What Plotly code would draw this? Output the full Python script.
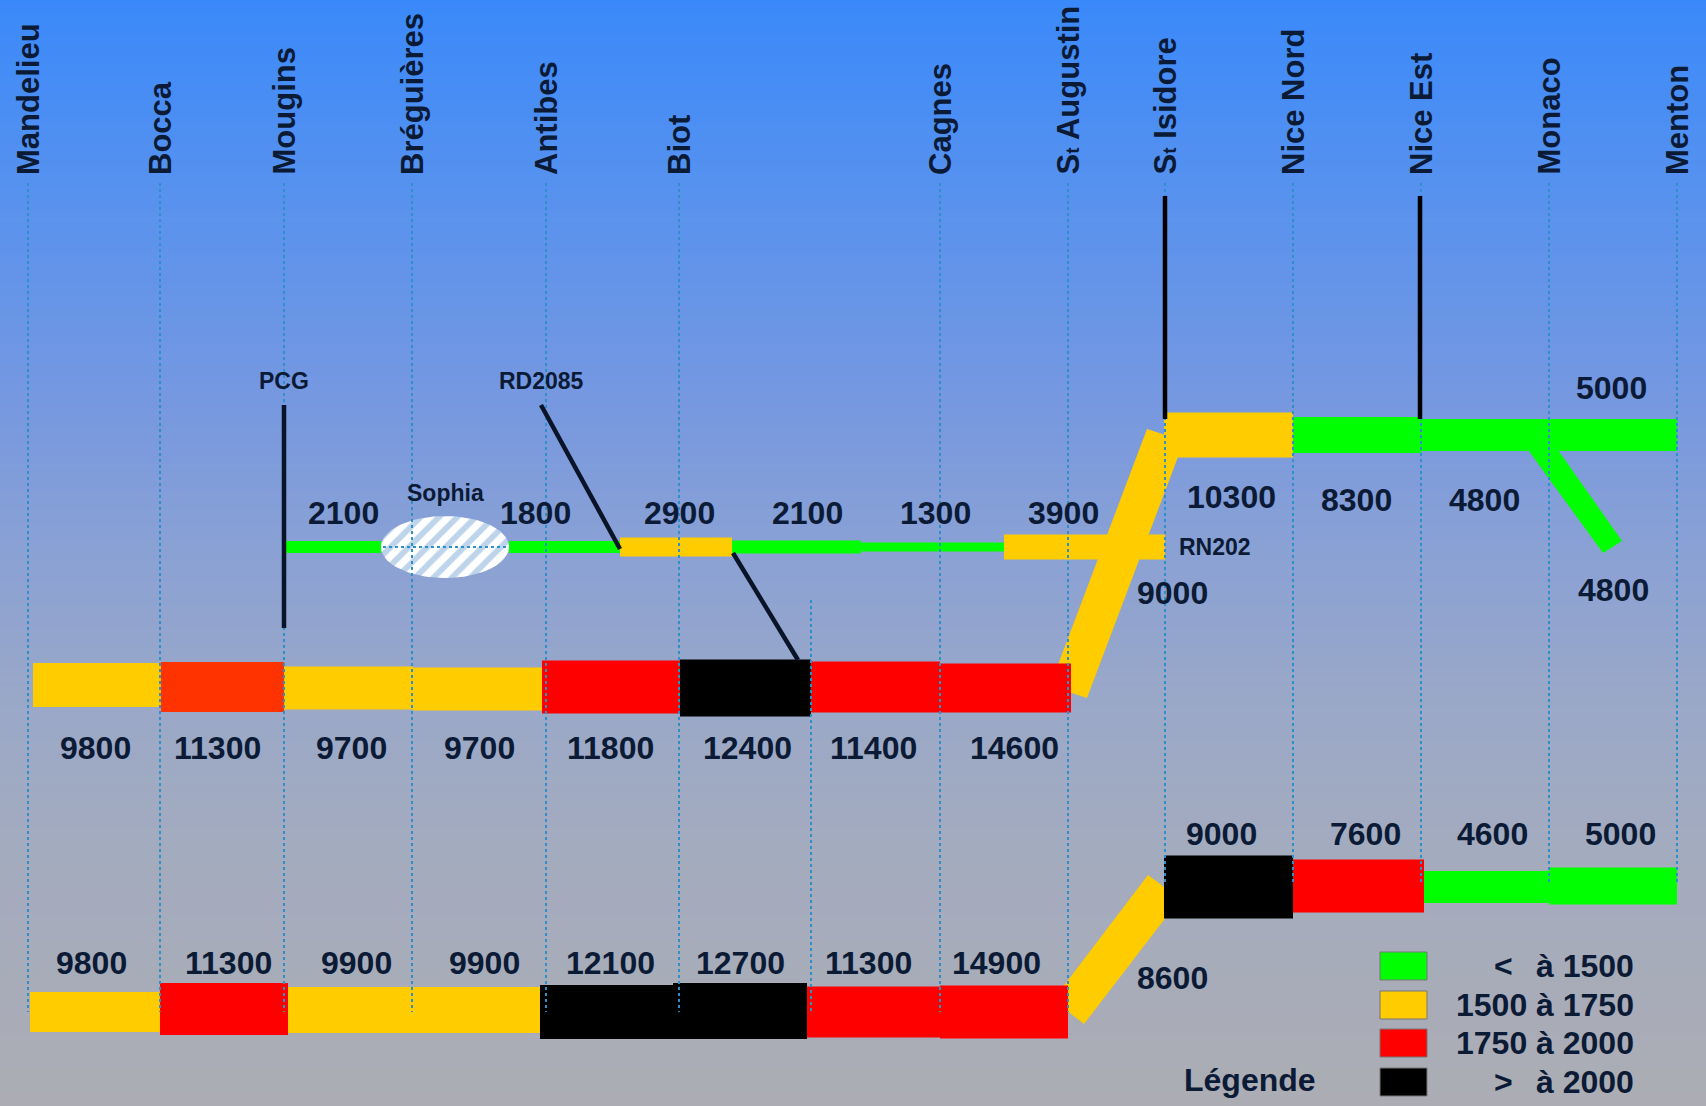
import numpy as np
import plotly.graph_objects as go

W, H = 1706, 1106

# ---------------- data ----------------
stations = ["Mandelieu", "Bocca", "Mougins", "Bréguières", "Antibes", "Biot", "",
            "Cagnes", "S<span style='font-size:19px'>t</span> Augustin",
            "S<span style='font-size:19px'>t</span> Isidore",
            "Nice Nord", "Nice Est", "Monaco", "Menton"]

# secondary route (PCG / Sophia / RD2085 / RN202)
rd_values = [2100, 1800, 2900, 2100, 1300, 3900]
rd_levels = [0, 0, 1, 0, 0, 1]

# A8 middle row (Mandelieu -> St Augustin)
mid_values = [9800, 11300, 9700, 9700, 11800, 12400, 11400, 14600]
mid_levels = [1, 2, 1, 1, 2, 3, 2, 2]

# A8 lower row (Mandelieu -> St Augustin)
low_values = [9800, 11300, 9900, 9900, 12100, 12700, 11300, 14900]
low_levels = [1, 2, 1, 1, 3, 3, 2, 2]

# east part, upper row (St Isidore -> Menton)
eup_values = [10300, 8300, 4800, 5000]
eup_levels = [1, 0, 0, 0]

# east part, lower row (St Isidore -> Menton)
elow_values = [9000, 7600, 4600, 5000]
elow_levels = [3, 2, 0, 0]

# St Augustin -> St Isidore links (upper, lower) and Monaco branch
link_values = [9000, 8600]
link_levels = [1, 1]
branch_value = 4800
branch_level = 0

side_labels = ["PCG", "RD2085", "Sophia", "RN202"]
legend_sym = ["<", "", "", ">"]
legend_txt = ["à 1500", "1500 à 1750", "1750 à 2000", "à 2000"]
legend_title = "Légende"

# ---------------- styles / geometry ----------------
LEVEL_COL = ["#00FF00", "#FFCC00", "#FF0000", "#000000"]
MID_COLOR_OVERRIDE = {1: "#FF3300"}
TXT = "#0B1A35"
DOT = "#2E8FC9"
FONT = "Liberation Sans, Arial, sans-serif"

STATION_X = [28, 160, 284, 412, 546, 679, 811, 940, 1068, 1165, 1293, 1421, 1549, 1677]

RD_SEG = [(284, 381), (509, 620), (620, 732), (732, 861), (861, 1004), (1004, 1165)]
RD_T = [12, 12, 19, 13, 9, 25]
RD_Y = 547
RD_LX = [343, 535, 679, 807, 935, 1063]
RD_LY = 513

MID_EDGES = [33, 161, 284, 413, 542, 680, 811, 940, 1071]
MID_Y = [685, 687, 688, 689, 687, 688, 687, 688]
MID_T = [44, 50, 43, 43, 53, 57, 51, 49]
MID_LX = [95, 217, 351, 479, 610, 747, 873, 1014]
MID_LY = 748

LOW_EDGES = [30, 160, 288, 414, 540, 673, 807, 940, 1068]
LOW_Y = [1012, 1009, 1010, 1010, 1012, 1011, 1012, 1012]
LOW_T = [40, 52, 46, 46, 54, 56, 51, 53]
LOW_LX = [91, 228, 356, 484, 610, 740, 868, 996]
LOW_LY = 963

EUP_EDGES = [1164, 1293, 1421, 1549, 1677]
EUP_Y = [435, 435, 435, 435]
EUP_T = [45, 36, 32, 32]
EUP_LXY = [(1231, 497), (1356, 500), (1484, 500), (1611, 388)]

ELOW_EDGES = [1164, 1293, 1424, 1549, 1677]
ELOW_Y = [887, 886, 887, 886]
ELOW_T = [63, 53, 32, 37]
ELOW_LX = [1221, 1365, 1492, 1620]
ELOW_LY = 834

LINK_POLY = [[(1147, 429), (1184, 441), (1087, 698), (1050, 686)],
             [(1148, 875), (1180, 899), (1084, 1024), (1053, 1000)]]
LINK_LXY = [(1172, 593), (1172, 978)]
BRANCH_POLY = [(1521, 440), (1551, 440), (1622, 541), (1603, 553)]
BRANCH_LXY = (1613, 590)

fig = go.Figure()

# background gradient
stops = [(0, (58, 137, 250)), (200, (88, 146, 238)), (400, (118, 152, 224)),
         (550, (138, 161, 212)), (700, (154, 168, 200)), (850, (163, 171, 190)),
         (1106, (172, 173, 180))]
cscale = [[s / H, "rgb(%d,%d,%d)" % c] for s, c in stops]
ys = np.linspace(0, H, 150)
fig.add_trace(go.Heatmap(x=[0, W], y=ys, z=[[v, v] for v in ys], colorscale=cscale,
                         zmin=0, zmax=H, zsmooth="best", showscale=False, hoverinfo="skip"))

shapes = []
annots = []


def rect(x0, x1, yc, t, color, line=None):
    shapes.append(dict(type="rect", xref="x", yref="y", x0=x0, x1=x1, y0=yc - t / 2, y1=yc + t / 2,
                       fillcolor=color, line=dict(width=0) if line is None else line, layer="above"))


def seg(x0, y0, x1, y1, color, width, dash=None):
    d = dict(type="line", xref="x", yref="y", x0=x0, y0=y0, x1=x1, y1=y1,
             line=dict(color=color, width=width), layer="above")
    if dash:
        d["line"]["dash"] = dash
    shapes.append(d)


def label(x, y, text, size=32, xanchor="center", angle=0, yanchor="middle"):
    annots.append(dict(x=x, y=y, xref="x", yref="y", text=text, showarrow=False,
                       xanchor=xanchor, yanchor=yanchor, textangle=angle,
                       font=dict(family=FONT, size=size, color=TXT, weight="bold")))


def poly(pts, color):
    xs = [p[0] for p in pts] + [pts[0][0]]
    yv = [p[1] for p in pts] + [pts[0][1]]
    fig.add_trace(go.Scatter(x=xs, y=yv, mode="lines", fill="toself", fillcolor=color,
                             line=dict(width=0, color=color), hoverinfo="skip", showlegend=False))


# diagonal links (under bars)
for i in range(2):
    poly(LINK_POLY[i], LEVEL_COL[link_levels[i]])
    label(LINK_LXY[i][0], LINK_LXY[i][1], str(link_values[i]))
poly(BRANCH_POLY, LEVEL_COL[branch_level])
label(BRANCH_LXY[0], BRANCH_LXY[1], str(branch_value))

# secondary route
for i, v in enumerate(rd_values):
    x0, x1 = RD_SEG[i]
    rect(x0, x1, RD_Y, RD_T[i], LEVEL_COL[rd_levels[i]])
    label(RD_LX[i], RD_LY, str(v))

# middle row
for i, v in enumerate(mid_values):
    col = MID_COLOR_OVERRIDE.get(i, LEVEL_COL[mid_levels[i]])
    rect(MID_EDGES[i], MID_EDGES[i + 1], MID_Y[i], MID_T[i], col)
    label(MID_LX[i], MID_LY, str(v))

# lower row
for i, v in enumerate(low_values):
    rect(LOW_EDGES[i], LOW_EDGES[i + 1], LOW_Y[i], LOW_T[i], LEVEL_COL[low_levels[i]])
    label(LOW_LX[i], LOW_LY, str(v))

# east upper
for i, v in enumerate(eup_values):
    rect(EUP_EDGES[i], EUP_EDGES[i + 1], EUP_Y[i], EUP_T[i], LEVEL_COL[eup_levels[i]])
    label(EUP_LXY[i][0], EUP_LXY[i][1], str(v))

# east lower
for i, v in enumerate(elow_values):
    rect(ELOW_EDGES[i], ELOW_EDGES[i + 1], ELOW_Y[i], ELOW_T[i], LEVEL_COL[elow_levels[i]])
    label(ELOW_LX[i], ELOW_LY, str(v))

# Sophia hatched ellipse
th = np.linspace(0, 2 * np.pi, 80)
fig.add_trace(go.Scatter(x=445 + 64 * np.cos(th), y=547 + 31 * np.sin(th), mode="lines",
                         fill="toself", fillcolor="white",
                         fillpattern=dict(shape="/", fgcolor="#7DAAD6", bgcolor="white",
                                          size=13, solidity=0.45),
                         line=dict(width=0, color="white"), hoverinfo="skip", showlegend=False))
seg(383, 547, 507, 547, DOT, 2, "dot")

# dotted station lines
for i, xs_ in enumerate(STATION_X):
    y0 = 600 if stations[i] == "" else 183
    y1 = 883 if i >= 9 else 1012
    seg(xs_, y0, xs_, y1, DOT, 2, "dot")

# black connector lines (drawn over dotted lines)
seg(284, 405, 284, 628, "#0A1428", 4.5)
seg(541, 405, 620, 549, "#0A1428", 4.5)
seg(733, 553, 798, 660, "#0A1428", 4.5)
seg(1165, 196, 1165, 419, "#000000", 4.5)
seg(1420, 196, 1420, 419, "#000000", 4.5)

# station names
for i, name in enumerate(stations):
    if name:
        label(STATION_X[i], 177, name, size=31, angle=-90, yanchor="bottom")

# side labels
label(284, 381, side_labels[0], size=23)
label(541, 381, side_labels[1], size=23)
label(445, 493, side_labels[2], size=23)
label(1177, 547, side_labels[3], size=23, xanchor="left")

# legend
LEG_Y = [966, 1005, 1043, 1082]
for i in range(4):
    rect(1380, 1427, LEG_Y[i], 28, LEVEL_COL[i], line=dict(width=1, color="#777777"))
    label(1636, LEG_Y[i], legend_txt[i], xanchor="right")
    if legend_sym[i]:
        label(1503, LEG_Y[i], legend_sym[i])
label(1250, 1080, legend_title)

fig.update_layout(
    width=W, height=H, autosize=False,
    margin=dict(l=0, r=0, t=0, b=0, pad=0),
    paper_bgcolor="#A9ABB5", plot_bgcolor="#A9ABB5",
    xaxis=dict(range=[0, W], visible=False, fixedrange=True),
    yaxis=dict(range=[H, 0], visible=False, fixedrange=True),
    shapes=shapes, annotations=annots, showlegend=False,
)

fig.write_html("out.html", config={"displayModeBar": False},
               post_script="document.body.style.margin='0';document.body.style.overflow='hidden';")
